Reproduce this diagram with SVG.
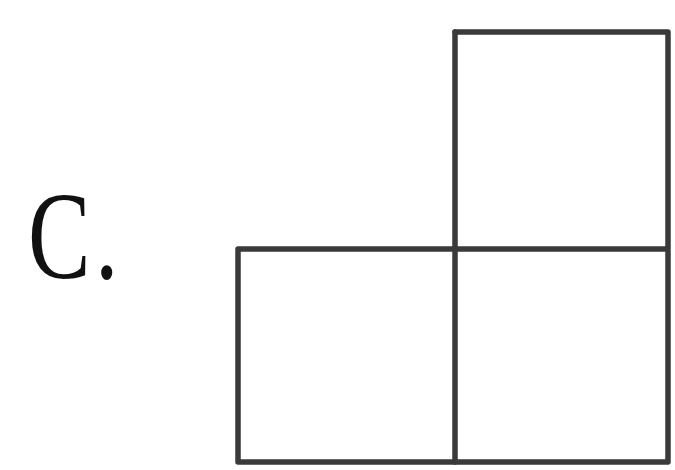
<svg xmlns="http://www.w3.org/2000/svg" width="675" height="470" viewBox="0 0 675 470">
<style>
.ln{fill:none;stroke:#3a3a3a;stroke-width:5.5;stroke-linejoin:round;stroke-linecap:round}
.lbl{font-family:"Liberation Serif","DejaVu Serif",serif;font-size:125px;fill:#111}
</style>
<rect width="675" height="470" fill="#fff"/>
<g id="label"><text class="lbl" transform="translate(28,278) scale(0.75,1)" x="0" y="0" letter-spacing="6">C.</text></g>
<g id="shape">
<path class="ln" d="M455,32 H668 V462 H238 V249 H668"/>
<path class="ln" d="M455,32 V462"/>
</g>
</svg>
